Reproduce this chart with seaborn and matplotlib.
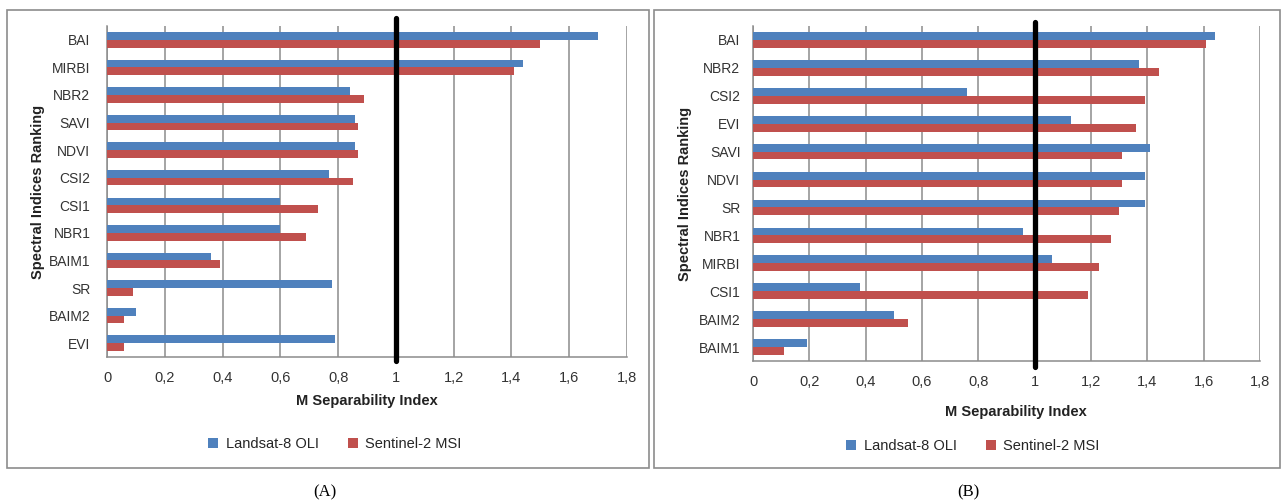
import numpy as np
import pandas as pd
import matplotlib
matplotlib.use("Agg")
import matplotlib.pyplot as plt
import seaborn as sns
from matplotlib.patches import Rectangle
from matplotlib.ticker import FixedLocator

# ---------------- data ----------------
series_names = ["Landsat-8 OLI", "Sentinel-2 MSI"]

cats_a = ["BAI", "MIRBI", "NBR2", "SAVI", "NDVI", "CSI2", "CSI1", "NBR1", "BAIM1", "SR", "BAIM2", "EVI"]
landsat_a = [1.70, 1.44, 0.84, 0.86, 0.86, 0.77, 0.60, 0.60, 0.36, 0.78, 0.10, 0.79]
sentinel_a = [1.50, 1.41, 0.89, 0.87, 0.87, 0.85, 0.73, 0.69, 0.39, 0.09, 0.06, 0.06]

cats_b = ["BAI", "NBR2", "CSI2", "EVI", "SAVI", "NDVI", "SR", "NBR1", "MIRBI", "CSI1", "BAIM2", "BAIM1"]
landsat_b = [1.64, 1.37, 0.76, 1.13, 1.41, 1.39, 1.39, 0.96, 1.06, 0.38, 0.50, 0.19]
sentinel_b = [1.61, 1.44, 1.39, 1.36, 1.31, 1.31, 1.30, 1.27, 1.23, 1.19, 0.55, 0.11]

xticks = [0, 0.2, 0.4, 0.6, 0.8, 1.0, 1.2, 1.4, 1.6, 1.8]
xtick_labels = ["0", "0,2", "0,4", "0,6", "0,8", "1", "1,2", "1,4", "1,6", "1,8"]
threshold = 1.0

x_label = "M Separability Index"
y_label = "Spectral Indices Ranking"
captions = ["(A)", "(B)"]

colors = ["#4F81BD", "#C0504D"]

# ---------------- style ----------------
sns.set_theme(style="white")
plt.rcParams["font.family"] = ["Liberation Sans Narrow", "Liberation Sans", "DejaVu Sans"]

W, H = 1283, 504
fig = plt.figure(figsize=(W / 100, H / 100), dpi=100)


def make_df(cats, l, s):
    return pd.DataFrame({
        "index": cats * 2,
        "value": list(l) + list(s),
        "sensor": [series_names[0]] * len(cats) + [series_names[1]] * len(cats),
    })


def px_axes(left, top, right, bottom):
    return [left / W, 1 - bottom / H, (right - left) / W, (bottom - top) / H]


panels = [
    dict(cats=cats_a, l=landsat_a, s=sentinel_a, box=px_axes(107, 26, 627, 357),
         line=(-0.012, 1.024), yticks=False, frame=(7, 10, 649, 468),
         ylab_x=38, xlab_x=367, xlab_y=401, leg_x=335, leg_y=444, cap_x=325),
    dict(cats=cats_b, l=landsat_b, s=sentinel_b, box=px_axes(753, 26, 1260, 361),
         line=(-0.018, 1.012), yticks=True, frame=(654, 10, 1280, 468),
         ylab_x=685, xlab_x=1016, xlab_y=412, leg_x=973, leg_y=446, cap_x=968),
]

for i, p in enumerate(panels):
    # frame box
    fx0, fy0, fx1, fy1 = p["frame"]
    fig.patches.append(Rectangle((fx0 / W, 1 - fy1 / H), (fx1 - fx0) / W, (fy1 - fy0) / H,
                                 transform=fig.transFigure, fill=False,
                                 edgecolor="#8c8c8c", linewidth=1.2))
    ax = fig.add_axes(p["box"])
    df = make_df(p["cats"], p["l"], p["s"])
    sns.barplot(data=df, y="index", x="value", hue="sensor", order=p["cats"],
                hue_order=series_names, palette=colors, orient="h",
                width=0.56, gap=0, saturation=1, ax=ax, legend=True,
                edgecolor="none", zorder=3)
    ax.set_xlim(0, 1.8)
    ax.set_ylim(len(p["cats"]) - 0.5, -0.5)
    ax.set_xticks(xticks)
    ax.set_xticklabels(xtick_labels, fontsize=10.5, color="#333333")
    ax.tick_params(axis="x", length=0, pad=10)
    ax.tick_params(axis="y", labelsize=10, labelcolor="#333333")
    if p["yticks"]:
        ax.tick_params(axis="y", which="major", length=0, pad=9)
        ax.yaxis.set_minor_locator(FixedLocator(np.arange(-0.5, len(p["cats"]), 1.0)))
        ax.tick_params(axis="y", which="minor", length=4, width=1, color="#8c8c8c", direction="out")
    else:
        ax.tick_params(axis="y", length=0, pad=12)
    ax.grid(axis="x", color="#8c8c8c", linewidth=1.1, zorder=0)
    ax.set_axisbelow(True)
    for side in ["top", "right"]:
        ax.spines[side].set_visible(False)
    for side in ["left", "bottom"]:
        ax.spines[side].set_color("#8c8c8c")
        ax.spines[side].set_linewidth(1.1)
    ax.set_xlabel("")
    ax.set_ylabel("")
    ax.axvline(threshold, ymin=p["line"][0], ymax=p["line"][1], color="black",
               linewidth=3.8, clip_on=False, zorder=5)

    # labels in figure coordinates
    bx = p["box"]
    fig.text(p["xlab_x"] / W, 1 - p["xlab_y"] / H, x_label, ha="center", va="center",
             fontsize=10.5, fontweight="bold", color="#222222")
    fig.text(p["ylab_x"] / W, bx[1] + bx[3] / 2, y_label, ha="center", va="center",
             rotation=90, fontsize=10.5, fontweight="bold", color="#222222")
    handles, labels = ax.get_legend_handles_labels()
    ax.get_legend().remove()
    fig.legend(handles, labels, loc="center", bbox_to_anchor=(p["leg_x"] / W, 1 - p["leg_y"] / H),
               ncol=2, frameon=False, fontsize=10.5, handlelength=0.7, handleheight=0.7,
               columnspacing=2.0, handletextpad=0.5)
    fig.text(p["cap_x"] / W, 1 - 492 / H, captions[i], ha="center", va="center",
             fontsize=12, family=["Liberation Serif", "DejaVu Serif"], color="black")

fig.savefig("out.png", dpi=100)
